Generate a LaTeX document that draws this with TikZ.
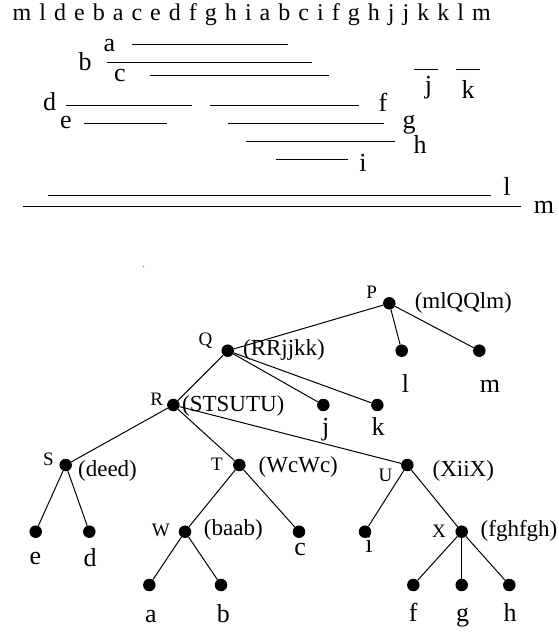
\documentclass[tikz,border=0pt]{standalone}
\usepackage{fontspec}
\setmainfont{Liberation Serif}
\begin{document}
\begin{tikzpicture}[x=1pt,y=-1pt,
  seg/.style={line width=1pt},
  edge/.style={line width=1pt},
  vtx/.style={circle,fill=black,inner sep=0pt,minimum size=12.5pt},
  lab/.style={anchor=base,inner sep=0pt,font=\fontsize{26}{30}\selectfont},
  vname/.style={anchor=base,inner sep=0pt,font=\fontsize{19}{22}\selectfont},
  word/.style={anchor=base,inner sep=0pt,font=\fontsize{23}{27}\selectfont}]
\useasboundingbox (0,0) rectangle (558,632);

% ---- letter sequence ----
\node[anchor=base west,inner sep=0pt,font=\fontsize{24}{28}\selectfont] (seq) at (12.5,20.5)
  {\makebox[478pt][s]{m l d e b a c e d f g h i a b c i f g h j j k k l m}};

% ---- intervals ----
\draw[seg] (131.7,44.3) -- (287.5,44.3);
\node[lab] (ia) at (109.5,51.5) {a};
\draw[seg] (106.8,62.7) -- (312,62.7);
\node[lab] (ib) at (85,70) {b};
\draw[seg] (149.5,75) -- (329,75);
\node[lab] (ic) at (120,81.7) {c};
\draw[seg] (413.5,69) -- (437.7,69);
\node[lab] (ij) at (428.5,93) {j};
\draw[seg] (455.5,69) -- (479.7,69);
\node[lab] (ik) at (468,98) {k};
\draw[seg] (65.8,105) -- (192,105);
\node[lab] (id) at (49.5,110) {d};
\draw[seg] (210,105) -- (359.4,105);
\node[lab] (if) at (383,111) {f};
\draw[seg] (83.6,123.3) -- (167,123.3);
\node[lab] (ie) at (66,128) {e};
\draw[seg] (227.8,123.3) -- (383.6,123.3);
\node[lab] (ig) at (409,128) {g};
\draw[seg] (245.6,141) -- (395,141);
\node[lab] (ih) at (420,153) {h};
\draw[seg] (275.8,159.3) -- (348,159.3);
\node[lab] (ii) at (363,171.7) {i};
\draw[seg] (48,195) -- (491,195);
\node[lab] (il) at (507,195) {l};
\draw[seg] (23,206.7) -- (521,206.7);
\node[lab] (im) at (544,213) {m};

\fill[black!45] (143.5,266.5) circle (0.8);

% ---- leaf labels (set first, so the vertex dots sit on top) ----
\node[lab] (ll) at (405.5,392.3) {l};
\node[lab] (lm) at (490,392.3) {m};
\node[lab] (lj) at (325.7,435) {j};
\node[lab] (lk) at (378,435) {k};
\node[lab] (le) at (35.5,564) {e};
\node[lab] (ld) at (90,566) {d};
\node[lab] (lc) at (300.2,555) {c};
\node[lab] (li) at (369,552.5) {i};
\node[lab] (la) at (150.8,622) {a};
\node[lab] (lb) at (223.3,622) {b};
\node[lab] (lf) at (413.3,621.7) {f};
\node[lab] (lg) at (462.5,621) {g};
\node[lab] (lh) at (510,621.7) {h};

% ---- tree vertices ----
\node[vtx] (P) at (389.3,303.3) {};
\node[vtx] (Q) at (227.7,350.7) {};
\node[vtx] (vl) at (401.7,350.7) {};
\node[vtx] (vm) at (479.3,350.7) {};
\node[vtx] (R) at (173.3,405) {};
\node[vtx] (vj) at (323.3,405) {};
\node[vtx] (vk) at (377.3,405) {};
\node[vtx] (S) at (65.7,465) {};
\node[vtx] (T) at (239.3,465) {};
\node[vtx] (U) at (407.3,465) {};
\node[vtx] (ve) at (35.7,531.7) {};
\node[vtx] (vd) at (89.3,531.7) {};
\node[vtx] (W) at (185,531.7) {};
\node[vtx] (vc) at (299,531.7) {};
\node[vtx] (vi) at (365,531.7) {};
\node[vtx] (X) at (461.7,531.7) {};
\node[vtx] (va) at (149.3,585) {};
\node[vtx] (vb) at (221,585) {};
\node[vtx] (vf) at (413.3,585) {};
\node[vtx] (vg) at (461.7,585) {};
\node[vtx] (vh) at (509.3,585) {};

% ---- tree edges ----
\draw[edge] (P) -- (Q);
\draw[edge] (P) -- (vl);
\draw[edge] (P) -- (vm);
\draw[edge] (Q) -- (R);
\draw[edge] (Q) -- (vj);
\draw[edge] (Q) -- (vk);
\draw[edge] (R) -- (S);
\draw[edge] (R) -- (T);
\draw[edge] (R) -- (U);
\draw[edge] (S) -- (ve);
\draw[edge] (S) -- (vd);
\draw[edge] (T) -- (W);
\draw[edge] (T) -- (vc);
\draw[edge] (U) -- (vi);
\draw[edge] (U) -- (X);
\draw[edge] (W) -- (va);
\draw[edge] (W) -- (vb);
\draw[edge] (X) -- (vf);
\draw[edge] (X) -- (vg);
\draw[edge] (X) -- (vh);

% ---- vertex names ----
\node[vname] (nP) at (371.7,298) {P};
\node[vname] (nQ) at (205.6,345) {Q};
\node[vname] (nR) at (156.7,405) {R};
\node[vname] (nS) at (48.3,465) {S};
\node[vname] (nT) at (217,470.7) {T};
\node[vname] (nU) at (385.5,481.7) {U};
\node[vname] (nW) at (160.8,536.7) {W};
\node[vname] (nX) at (439,537) {X};

% ---- vertex words ----
\node[word] (wP) at (463.3,308) {(mlQQlm)};
\node[word] (wQ) at (284,355) {(RRjjkk)};
\node[word] (wR) at (233.3,411) {(STSUTU)};
\node[word] (wS) at (107.5,476) {(deed)};
\node[word] (wT) at (298.3,472) {(WcWc)};
\node[word] (wU) at (463.3,476) {(XiiX)};
\node[word] (wW) at (233.3,535) {(baab)};
\node[word] (wX) at (519,536) {(fghfgh)};
\end{tikzpicture}
\end{document}
